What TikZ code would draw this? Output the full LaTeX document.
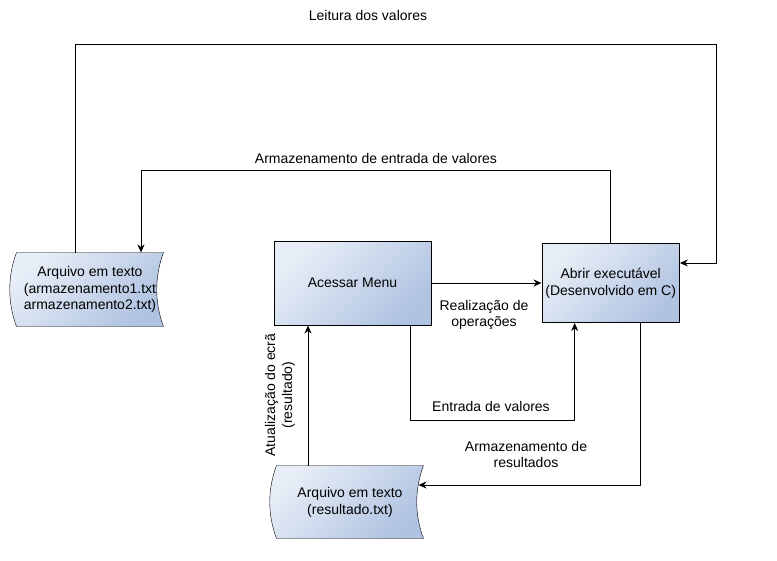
\documentclass[tikz,border=0pt]{standalone}
\usepackage{fontspec}
\setmainfont{Liberation Sans}
\usetikzlibrary{arrows.meta,positioning,backgrounds}

\definecolor{boxlight}{RGB}{232,238,247}
\definecolor{boxdark}{RGB}{176,195,225}

\begin{document}
\begin{tikzpicture}[->,>={Stealth[length=8pt,width=7pt]},x=1pt,y=-1pt,
                    line width=1pt,node distance=110pt,
                    font=\fontsize{14}{16.8}\selectfont]

  \tikzstyle{procbox}=[draw,rectangle,align=center,top color=boxlight,
                       bottom color=boxdark,shading angle=45]
  \tikzstyle{filebox}=[rectangle,align=center,minimum width=146pt,
                       minimum height=73pt]
  \tikzstyle{filling}=[draw,top color=boxlight,bottom color=boxdark,
                       shading angle=45]

  \useasboundingbox (0,0) rectangle (777,560);

  \node[procbox, minimum width=157pt, minimum height=84pt]
    (menu) at (352.5,283) {Acessar Menu};
  \node[procbox, minimum width=137pt, minimum height=79pt]
    (exec) [right=of menu] {Abrir executável\\(Desenvolvido em C)};
  \node[filebox]
    (store1) at (90,289.5) {Arquivo em texto\\(armazenamento1.txt\\armazenamento2.txt)};
  \node[filebox, minimum height=72pt]
    (store2) [below=140pt of menu, xshift=-2.5pt] {Arquivo em texto\\(resultado.txt)};

  % stored data outlines
  \begin{scope}[on background layer]
    \foreach \s in {store1,store2}
      \path[filling,-] (\s.north west)
          .. controls ([xshift=-9pt,yshift=-24pt]\s.north west)
                  and ([xshift=-9pt,yshift=24pt]\s.south west) .. (\s.south west)
        -- (\s.south east)
          .. controls ([xshift=-9pt,yshift=24pt]\s.south east)
                  and ([xshift=-9pt,yshift=-24pt]\s.north east) .. (\s.north east)
        -- cycle;
  \end{scope}

  \draw ([xshift=-15pt]store1.north) |- (716,44) |- ([yshift=20pt]exec.east);
  \draw (exec.north) |- (141,170) -- ([xshift=51pt]store1.north);
  \draw (menu) -- (exec);
  \draw ([xshift=58pt]menu.south) -- ++(0,95) -| ([xshift=-36pt]exec.south);
  \draw ([xshift=30pt]exec.south) |- ([xshift=-5pt,yshift=17pt]store2.east);
  \draw ([xshift=-42pt]store2.north) -- ++(0,-140);

  \node (lread) at (368,15) {Leitura dos valores};
  \node (lstore) at (376,158) {Armazenamento de entrada de valores};
  \node[align=center] (lops) at (484,315) {Realização de\\operações};
  \node (lin) at (491,406) {Entrada de valores};
  \node[align=center] (lres) at (526,454.5) {Armazenamento de\\resultados};
  \node[align=center, rotate=90] (lscreen) at (280,395) {Atualização do ecrã\\(resultado)};

\end{tikzpicture}
\end{document}
